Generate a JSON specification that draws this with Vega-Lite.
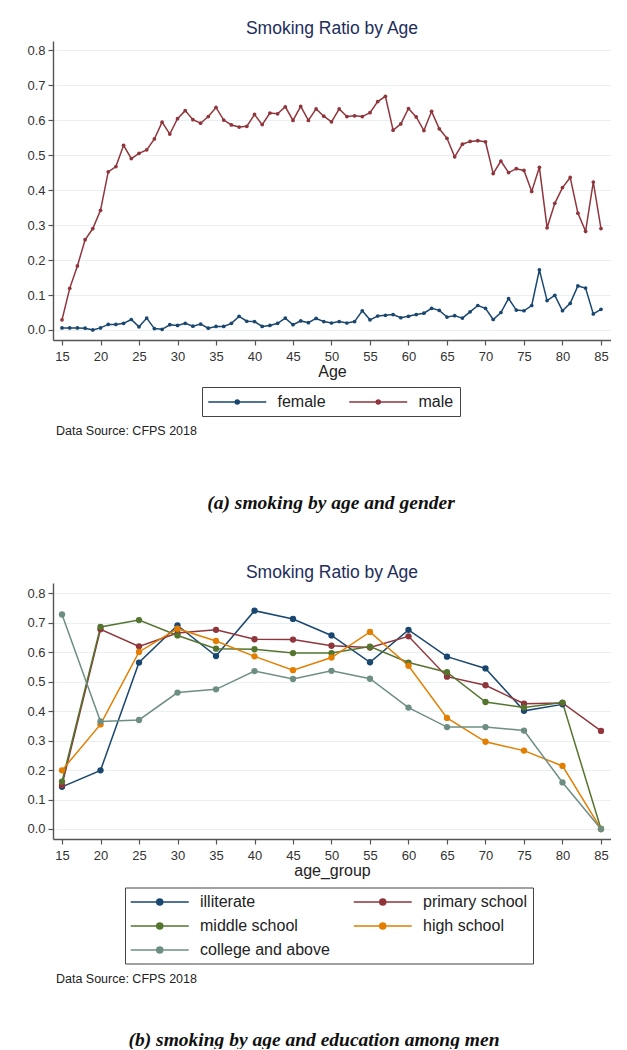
{
  "$schema": "https://vega.github.io/schema/vega-lite/v6.json",
  "padding": {"left": 26, "top": 19, "right": 0, "bottom": 0},
  "background": "white",
  "config": {
    "font": "Liberation Sans",
    "view": {"stroke": null},
    "axis": {
      "labelFont": "Liberation Sans", "labelFontSize": 13, "labelColor": "#333333",
      "domainColor": "#555555", "domainWidth": 1.4,
      "tickColor": "#555555", "tickSize": 5, "tickWidth": 1.2,
      "titleFont": "Liberation Sans", "titleFontSize": 16, "titleFontWeight": "normal", "titleColor": "#222222",
      "gridColor": "#e9f0f5", "gridWidth": 1.2
    },
    "legend": {
      "labelFont": "Liberation Sans", "labelFontSize": 16, "labelColor": "#222222",
      "strokeColor": "#444444", "fillColor": "white", "symbolStrokeWidth": 1.5, "labelOffset": 51.5
    },
    "title": {"font": "Liberation Sans", "fontWeight": "normal"}
  },
  "datasets": {
    "gender": [
      {"age":15,"female":0.006,"male":0.029},{"age":16,"female":0.006,"male":0.119},{"age":17,"female":0.006,"male":0.183},
      {"age":18,"female":0.005,"male":0.258},{"age":19,"female":0.000,"male":0.290},{"age":20,"female":0.006,"male":0.342},
      {"age":21,"female":0.016,"male":0.452},{"age":22,"female":0.016,"male":0.467},{"age":23,"female":0.019,"male":0.528},
      {"age":24,"female":0.030,"male":0.490},{"age":25,"female":0.009,"male":0.505},{"age":26,"female":0.034,"male":0.515},
      {"age":27,"female":0.004,"male":0.546},{"age":28,"female":0.002,"male":0.594},{"age":29,"female":0.015,"male":0.560},
      {"age":30,"female":0.013,"male":0.604},{"age":31,"female":0.019,"male":0.627},{"age":32,"female":0.011,"male":0.601},
      {"age":33,"female":0.017,"male":0.591},{"age":34,"female":0.005,"male":0.610},{"age":35,"female":0.010,"male":0.636},
      {"age":36,"female":0.010,"male":0.600},{"age":37,"female":0.019,"male":0.586},{"age":38,"female":0.039,"male":0.580},
      {"age":39,"female":0.025,"male":0.582},{"age":40,"female":0.024,"male":0.616},{"age":41,"female":0.010,"male":0.587},
      {"age":42,"female":0.013,"male":0.620},{"age":43,"female":0.019,"male":0.618},{"age":44,"female":0.034,"male":0.638},
      {"age":45,"female":0.015,"male":0.599},{"age":46,"female":0.026,"male":0.639},{"age":47,"female":0.021,"male":0.599},
      {"age":48,"female":0.033,"male":0.632},{"age":49,"female":0.024,"male":0.611},{"age":50,"female":0.020,"male":0.595},
      {"age":51,"female":0.024,"male":0.632},{"age":52,"female":0.020,"male":0.610},{"age":53,"female":0.024,"male":0.612},
      {"age":54,"female":0.055,"male":0.610},{"age":55,"female":0.029,"male":0.621},{"age":56,"female":0.040,"male":0.653},
      {"age":57,"female":0.042,"male":0.668},{"age":58,"female":0.044,"male":0.571},{"age":59,"female":0.035,"male":0.589},
      {"age":60,"female":0.039,"male":0.633},{"age":61,"female":0.044,"male":0.609},{"age":62,"female":0.048,"male":0.570},
      {"age":63,"female":0.062,"male":0.625},{"age":64,"female":0.056,"male":0.575},{"age":65,"female":0.037,"male":0.548},
      {"age":66,"female":0.041,"male":0.495},{"age":67,"female":0.034,"male":0.531},{"age":68,"female":0.052,"male":0.539},
      {"age":69,"female":0.070,"male":0.541},{"age":70,"female":0.062,"male":0.538},{"age":71,"female":0.030,"male":0.447},
      {"age":72,"female":0.050,"male":0.483},{"age":73,"female":0.090,"male":0.450},{"age":74,"female":0.057,"male":0.461},
      {"age":75,"female":0.055,"male":0.456},{"age":76,"female":0.070,"male":0.396},{"age":77,"female":0.172,"male":0.465},
      {"age":78,"female":0.084,"male":0.292},{"age":79,"female":0.099,"male":0.362},{"age":80,"female":0.055,"male":0.407},
      {"age":81,"female":0.076,"male":0.436},{"age":82,"female":0.126,"male":0.334},{"age":83,"female":0.120,"male":0.282},
      {"age":84,"female":0.046,"male":0.423},{"age":85,"female":0.059,"male":0.290}
    ],
    "edu": [
      {"age_group":15,"illiterate":0.143,"primary school":0.149,"middle school":0.161,"high school":0.199,"college and above":0.728},
      {"age_group":20,"illiterate":0.199,"primary school":0.678,"middle school":0.686,"high school":0.355,"college and above":0.365},
      {"age_group":25,"illiterate":0.565,"primary school":0.620,"middle school":0.709,"high school":0.601,"college and above":0.370},
      {"age_group":30,"illiterate":0.691,"primary school":0.665,"middle school":0.657,"high school":0.680,"college and above":0.463},
      {"age_group":35,"illiterate":0.587,"primary school":0.676,"middle school":0.612,"high school":0.638,"college and above":0.474},
      {"age_group":40,"illiterate":0.741,"primary school":0.644,"middle school":0.610,"high school":0.586,"college and above":0.536},
      {"age_group":45,"illiterate":0.713,"primary school":0.643,"middle school":0.597,"high school":0.539,"college and above":0.509},
      {"age_group":50,"illiterate":0.657,"primary school":0.622,"middle school":0.597,"high school":0.582,"college and above":0.537},
      {"age_group":55,"illiterate":0.566,"primary school":0.616,"middle school":0.619,"high school":0.669,"college and above":0.510},
      {"age_group":60,"illiterate":0.676,"primary school":0.654,"middle school":0.565,"high school":0.554,"college and above":0.412},
      {"age_group":65,"illiterate":0.585,"primary school":0.517,"middle school":0.532,"high school":0.377,"college and above":0.346},
      {"age_group":70,"illiterate":0.545,"primary school":0.488,"middle school":0.431,"high school":0.296,"college and above":0.346},
      {"age_group":75,"illiterate":0.401,"primary school":0.425,"middle school":0.412,"high school":0.266,"college and above":0.334},
      {"age_group":80,"illiterate":0.423,"primary school":0.428,"middle school":0.429,"high school":0.214,"college and above":0.158},
      {"age_group":85,"primary school":0.333,"middle school":0.0,"high school":0.0,"college and above":0.0}
    ]
  },
  "resolve": {"scale": {"color": "independent"}, "legend": {"color": "independent"}},
  "spacing": 50,
  "vconcat": [
    {
      "title": {"text": "(a) smoking by age and gender", "orient": "bottom", "font": "Liberation Serif", "fontStyle": "italic", "fontWeight": "bold", "fontSize": 19.5, "color": "#111111", "offset": 57, "anchor": "middle", "frame": "bounds", "dx": 12},
      "resolve": {"scale": {"color": "independent"}, "legend": {"color": "independent"}},
      "vconcat": [
        {
          "title": {"text": "Data Source: CFPS 2018", "orient": "bottom", "anchor": "start", "frame": "bounds", "fontSize": 12.5, "color": "#222222", "offset": 8, "dx": 29},
          "resolve": {"scale": {"color": "independent"}, "legend": {"color": "independent"}},
          "vconcat": [
            {
              "name": "pa",
              "width": 558, "height": 299,
              "title": {"text": "Smoking Ratio by Age", "fontSize": 17.5, "color": "#1e2d5a", "offset": 4, "anchor": "middle", "frame": "group"},
              "data": {"name": "gender"},
              "transform": [{"fold": ["female", "male"], "as": ["gender", "ratio"]}],
              "encoding": {
                "x": {"field": "age", "type": "quantitative",
                      "scale": {"domain": [13.83, 86.3], "nice": false, "zero": false},
                      "axis": {"values": [15,20,25,30,35,40,45,50,55,60,65,70,75,80,85], "title": "Age", "grid": false, "labelPadding": 5, "titlePadding": 0}},
                "y": {"field": "ratio", "type": "quantitative",
                      "scale": {"domain": [-0.0286, 0.826], "nice": false, "zero": false},
                      "axis": {"values": [0,0.1,0.2,0.3,0.4,0.5,0.6,0.7,0.8], "format": ".1f", "title": null, "grid": true, "labelPadding": 3}},
                "color": {"field": "gender", "type": "nominal",
                          "scale": {"domain": ["female", "male"], "range": ["#1a476f", "#90353b"]},
                          "legend": {"orient": "none", "legendX": 149, "legendY": 346, "direction": "horizontal", "columns": 2, "title": null,
                                     "padding": 6, "columnPadding": 20,
                                     "symbolType": "M-1.094,0H6.156M2.281,0A0.25,0.25,0,1,1,2.781,0A0.25,0.25,0,1,1,2.281,0Z", "symbolSize": 256,
                                     "encode": {"symbols": {"update": {"fill": {"scale": "pa_color", "field": "value"}, "stroke": {"scale": "pa_color", "field": "value"}}}}}}
              },
              "layer": [
                {"mark": {"type": "line", "strokeWidth": 1.5}},
                {"mark": {"type": "point", "filled": true, "size": 14, "opacity": 1}}
              ]
            }
          ]
        }
      ]
    },
    {
      "title": {"text": "(b) smoking by age and education among men", "orient": "bottom", "font": "Liberation Serif", "fontStyle": "italic", "fontWeight": "bold", "fontSize": 19.5, "color": "#111111", "offset": 45, "anchor": "middle", "frame": "bounds", "dx": -5},
      "resolve": {"scale": {"color": "independent"}, "legend": {"color": "independent"}},
      "vconcat": [
        {
          "title": {"text": "Data Source: CFPS 2018", "orient": "bottom", "anchor": "start", "frame": "bounds", "fontSize": 12.5, "color": "#222222", "offset": 9, "dx": 29},
          "resolve": {"scale": {"color": "independent"}, "legend": {"color": "independent"}},
          "vconcat": [
            {
              "name": "pb",
              "width": 558, "height": 256,
              "title": {"text": "Smoking Ratio by Age", "fontSize": 17.5, "color": "#1e2d5a", "offset": 2, "anchor": "middle", "frame": "group"},
              "data": {"name": "edu"},
              "transform": [{"fold": ["illiterate", "primary school", "middle school", "high school", "college and above"], "as": ["edu", "ratio"]}],
              "encoding": {
                "x": {"field": "age_group", "type": "quantitative",
                      "scale": {"domain": [13.83, 86.3], "nice": false, "zero": false},
                      "axis": {"values": [15,20,25,30,35,40,45,50,55,60,65,70,75,80,85], "title": "age_group", "grid": false, "labelPadding": 5, "titlePadding": 0}},
                "y": {"field": "ratio", "type": "quantitative",
                      "scale": {"domain": [-0.034, 0.835], "nice": false, "zero": false},
                      "axis": {"values": [0,0.1,0.2,0.3,0.4,0.5,0.6,0.7,0.8], "format": ".1f", "title": null, "grid": true, "labelPadding": 3}},
                "color": {"field": "edu", "type": "nominal",
                          "scale": {"domain": ["illiterate", "primary school", "middle school", "high school", "college and above"], "range": ["#1a476f", "#90353b", "#55752f", "#e37e00", "#6e8e84"]},
                          "legend": {"orient": "none", "legendX": 72, "legendY": 304.5, "direction": "horizontal", "columns": 2, "title": null,
                                     "padding": 5.5, "columnPadding": 20, "rowPadding": 7,
                                     "symbolType": "M-1.094,0H6.156M2.156,0A0.375,0.375,0,1,1,2.906,0A0.375,0.375,0,1,1,2.156,0Z", "symbolSize": 256,
                                     "encode": {"symbols": {"update": {"fill": {"scale": "pb_color", "field": "value"}, "stroke": {"scale": "pb_color", "field": "value"}}}}}}
              },
              "layer": [
                {"mark": {"type": "line", "strokeWidth": 1.5}},
                {"mark": {"type": "point", "filled": true, "size": 40, "opacity": 1}}
              ]
            }
          ]
        }
      ]
    }
  ]
}
